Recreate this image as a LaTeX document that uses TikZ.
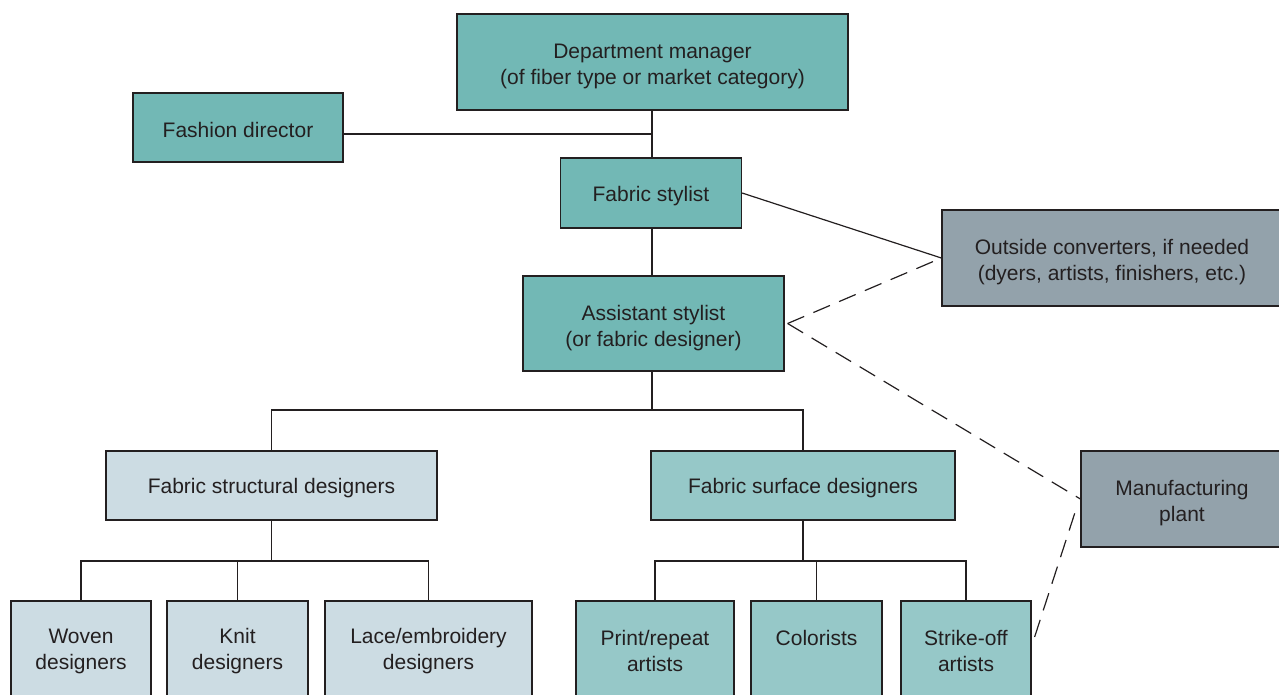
\documentclass[tikz,border=0pt]{standalone}
\usepackage{fontspec}
\setmainfont{Liberation Sans}
\definecolor{tealdark}{RGB}{114,184,181}
\definecolor{teallight}{RGB}{150,200,200}
\definecolor{bluepale}{RGB}{204,220,227}
\definecolor{slategrey}{RGB}{147,162,171}
\definecolor{inkgrey}{RGB}{35,31,32}
\newcommand{\lowstrut}{\rule{0pt}{24pt}}
\tikzset{
  box/.style={draw=inkgrey, line width=1.2pt, inner sep=0pt, align=center,
    text=inkgrey, font=\fontsize{21}{26}\selectfont,
    execute at begin node={\rule{0pt}{21pt}}},
  link/.style={draw=inkgrey, line width=1.2pt},
  dashlink/.style={link, dash pattern=on 18pt off 10pt}
}
\begin{document}
\begin{tikzpicture}[x=1pt,y=-1pt]
  \useasboundingbox (0,0) rectangle (1279,694);
  \clip (0,0) rectangle (1279,694);

  \node[box, fill=tealdark, minimum width=391pt, minimum height=96pt] (dm) at (652.5,62)
    {\lowstrut Department manager\\(of fiber type or market category)};
  \node[box, fill=tealdark, minimum width=210pt, minimum height=69pt] (fd) at (238,127.5)
    {Fashion director};
  \node[box, fill=tealdark, minimum width=181pt, minimum height=70pt] (fs) at (651,193)
    {Fabric stylist};
  \node[box, fill=tealdark, minimum width=261pt, minimum height=95pt] (as) at (653.5,323.5)
    {\lowstrut Assistant stylist\\(or fabric designer)};
  \node[box, fill=slategrey, minimum width=350pt, minimum height=96pt] (oc) at (1117,258)
    {\lowstrut\hspace*{-10pt}Outside converters, if needed\\\hspace*{-10pt}(dyers, artists, finishers, etc.)};
  \node[box, fill=slategrey, minimum width=210pt, minimum height=96pt] (mp) at (1186,499)
    {\lowstrut\hspace*{-8pt}Manufacturing\\\hspace*{-8pt}plant};

  \node[box, fill=bluepale, minimum width=331pt, minimum height=69pt] (fstr) at (271.5,485.5)
    {Fabric structural designers};
  \node[box, fill=teallight, minimum width=304pt, minimum height=69pt] (fsurf) at (803,485.5)
    {Fabric surface designers};

  \node[box, fill=bluepale, minimum width=140pt, minimum height=100pt] (wv) at (81,651)
    {Woven\\designers};
  \node[box, fill=bluepale, minimum width=141pt, minimum height=100pt] (kn) at (237.5,651)
    {Knit\\designers};
  \node[box, fill=bluepale, minimum width=207pt, minimum height=100pt] (lc) at (428.5,651)
    {Lace/embroidery\\designers};
  \node[box, fill=teallight, minimum width=158pt, minimum height=100pt] (pr) at (655,651)
    {Print/repeat\\artists};
  \node[box, fill=teallight, minimum width=131pt, minimum height=100pt] (cl) at (816.5,651)
    {Colorists\\\mbox{}};
  \node[box, fill=teallight, minimum width=130pt, minimum height=100pt] (so) at (966,651)
    {Strike-off\\artists};

  % solid lines of the chart
  \coordinate (jA) at (652,410);
  \draw[link] (jA |- dm.south) -- (jA |- fs.north);
  \draw[link] ([yshift=-6.5pt]fd.east) -- ([yshift=-6.5pt]fd.east -| jA);
  \draw[link] (jA |- fs.south) -- (jA |- as.north);
  \draw[link] (jA |- as.south) -- (jA);
  \draw[link] (fstr.north) |- (jA) -| (fsurf.north);
  \coordinate (jB) at (271.5,561);
  \draw[link] (fstr.south) -- (jB);
  \draw[link] (wv.north) |- (jB) -| (lc.north);
  \draw[link] (kn.north) -- (kn.north |- jB);
  \coordinate (jC) at (803,561);
  \draw[link] (fsurf.south) -- (jC);
  \draw[link] (pr.north) |- (jC) -| (so.north);
  \draw[link] (cl.north) -- (cl.north |- jC);
  \draw[link] (fs.east) -- (oc.west);

  % dashed links
  \draw[dashlink] ([xshift=3pt]as.east) -- (oc.west);
  \draw[dashlink] ([xshift=3pt]as.east) -- (mp.west);
  \draw[dashlink] ([xshift=3pt,yshift=14pt]so.east) -- ([xshift=-3pt,yshift=-6pt]mp.west);
\end{tikzpicture}
\end{document}
